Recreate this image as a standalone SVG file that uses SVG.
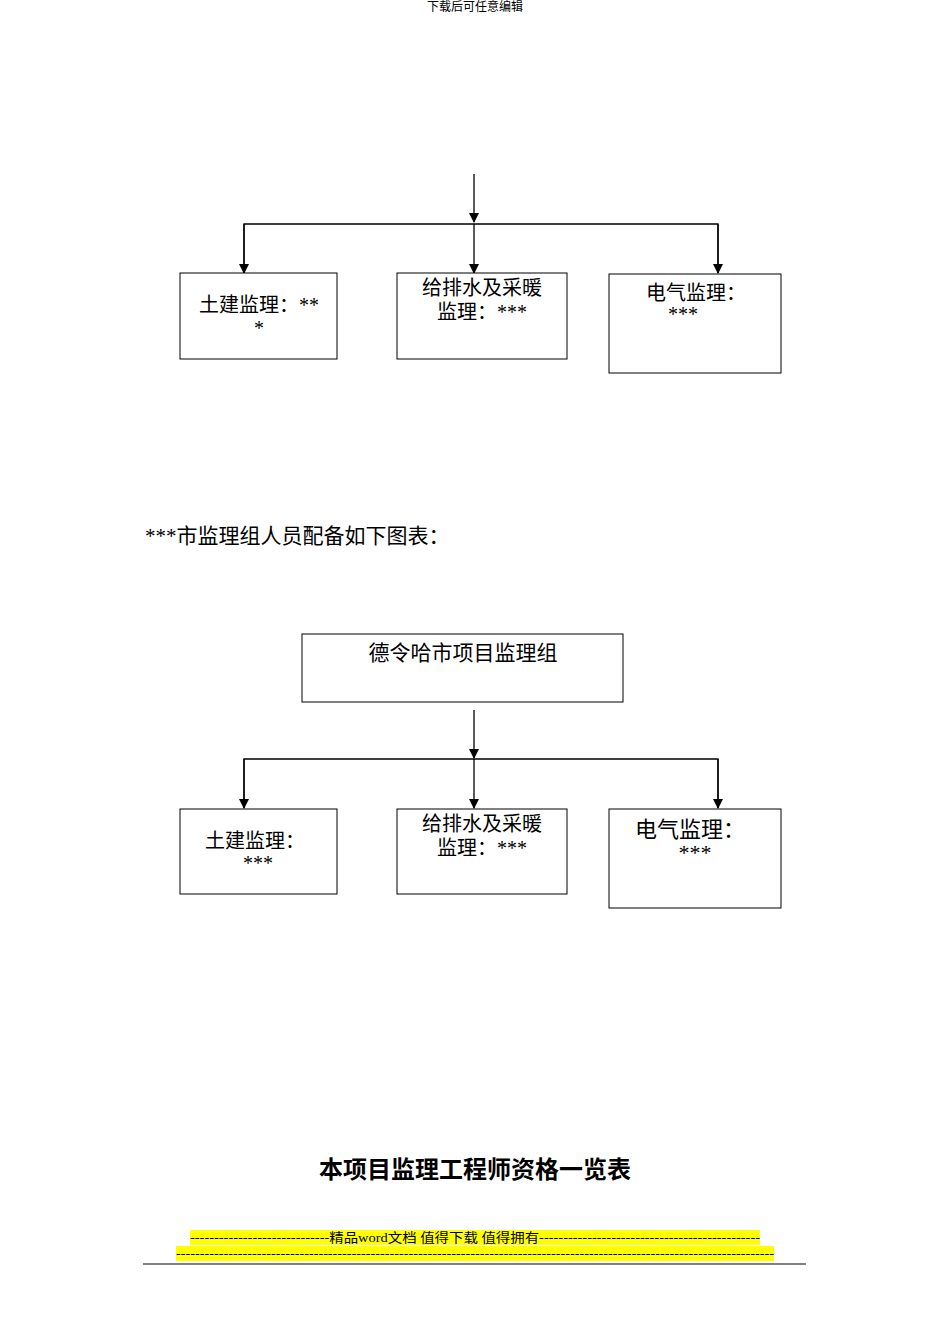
<svg xmlns="http://www.w3.org/2000/svg" width="950" height="1344" viewBox="0 0 950 1344">
<style>
text{font-family:"Liberation Serif","Noto Sans CJK SC",serif;fill:#000}
.b{fill:#fff;stroke:#000;stroke-width:1}
.c{stroke:#000;stroke-width:1.3;fill:none}
</style>
<defs><marker id="a" markerWidth="10" markerHeight="10" refX="9" refY="5" orient="auto" markerUnits="userSpaceOnUse" viewBox="0 0 10 10"><path d="M0,0L10,5L0,10z" fill="#000"/></marker></defs>
<rect width="950" height="1344" fill="#fff"/>
<text x="475" y="11" font-size="12" text-anchor="middle">下载后可任意编辑</text>
<g id="connectors">
<path class="c" d="M474,174V222" marker-end="url(#a)"/>
<path class="c" d="M244,273V224H718V273"/>
<path class="c" d="M244,224V273" marker-end="url(#a)"/>
<path class="c" d="M474,224V273" marker-end="url(#a)"/>
<path class="c" d="M718,224V273" marker-end="url(#a)"/>
<path class="c" d="M474,710V758" marker-end="url(#a)"/>
<path class="c" d="M244,808V759H718V808"/>
<path class="c" d="M244,759V808" marker-end="url(#a)"/>
<path class="c" d="M474,759V808" marker-end="url(#a)"/>
<path class="c" d="M718,759V808" marker-end="url(#a)"/>
</g>
<g id="n1"><rect class="b" x="180" y="273" width="157" height="86"/><text x="259" y="312" font-size="20" text-anchor="middle">土建监理：**</text><text x="259" y="335" font-size="20" text-anchor="middle">*</text></g>
<g id="n2"><rect class="b" x="397" y="273" width="170" height="86"/><text x="482" y="295" font-size="20" text-anchor="middle">给排水及采暖</text><text x="482" y="319" font-size="20" text-anchor="middle">监理：***</text></g>
<g id="n3"><rect class="b" x="609" y="274" width="172" height="99" stroke-width="1.5"/><text x="646" y="300" font-size="20">电气监理：</text><text x="683" y="321" font-size="20" text-anchor="middle">***</text></g>
<text x="145" y="543" font-size="21">***市监理组人员配备如下图表：</text>
<g id="n4"><rect class="b" x="302" y="634" width="321" height="68" stroke-width="1.5"/><text x="463" y="660" font-size="21" text-anchor="middle">德令哈市项目监理组</text></g>
<g id="n5"><rect class="b" x="180" y="809" width="157" height="85"/><text x="255" y="848" font-size="20" text-anchor="middle">土建监理：</text><text x="258" y="870" font-size="20" text-anchor="middle">***</text></g>
<g id="n6"><rect class="b" x="397" y="809" width="170" height="85"/><text x="482" y="831" font-size="20" text-anchor="middle">给排水及采暖</text><text x="482" y="855" font-size="20" text-anchor="middle">监理：***</text></g>
<g id="n7"><rect class="b" x="609" y="809" width="172" height="99" stroke-width="1.5"/><text x="635" y="837" font-size="22">电气监理：</text><text x="695" y="860" font-size="22" text-anchor="middle">***</text></g>
<text x="475" y="1178" font-size="24" font-weight="bold" text-anchor="middle">本项目监理工程师资格一览表</text>
<rect x="190" y="1230" width="570" height="15" fill="#ffff00"/>
<rect x="176" y="1246" width="598" height="15" fill="#ffff00"/>
<text x="475" y="1242" font-size="13" text-anchor="middle" textLength="570" lengthAdjust="spacingAndGlyphs">-----------------------------精品word文档 值得下载 值得拥有----------------------------------------------</text>
<text x="475" y="1258" font-size="13" text-anchor="middle" textLength="598" lengthAdjust="spacingAndGlyphs">------------------------------------------------------------------------------------------------------------------------------</text>
<line x1="143" y1="1264" x2="806" y2="1264" stroke="#000" stroke-width="1.2"/>
</svg>
